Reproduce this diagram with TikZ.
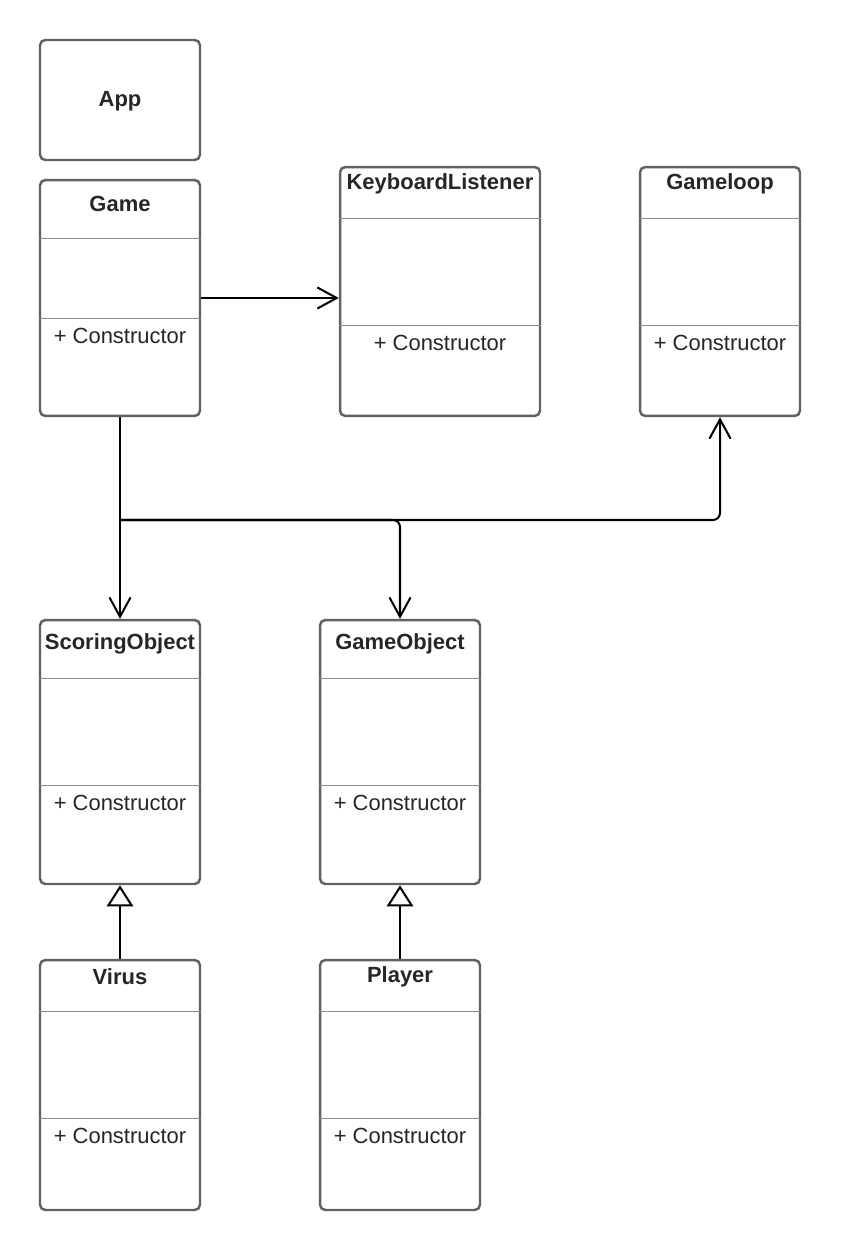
\documentclass[tikz,border=0pt]{standalone}
\usepackage{fontspec}
\setmainfont{Liberation Sans}
\usetikzlibrary{arrows.meta,positioning,calc}

\begin{document}
\begin{tikzpicture}[x=0.02cm, y=-0.02cm,
    every node/.style={font=\fontsize{12.5}{15}\selectfont},
    classbox/.style={draw=black!62, line width=1.4pt, rounded corners=3pt,
        inner sep=0pt, minimum width=3.2cm},
    sepline/.style={draw=black!45, line width=0.5pt},
    classname/.style={font=\fontsize{12.5}{15}\selectfont\bfseries, text=black!85},
    member/.style={text=black!85},
    assoc/.style={line width=1.15pt, -{Straight Barb[length=11pt, width=12pt, line width=1.15pt]}},
    inherit/.style={line width=1.15pt, -{Triangle[open, length=12pt, width=15pt, line width=1.15pt]}}]

    \useasboundingbox (0,0) rectangle (840,1250);

    % 1. Kotak kelas
    \node[classbox, minimum height=2.4cm] (app) at (120,100) {};
    \node[classbox, minimum height=4.72cm] (game) at (120,298) {};
    \node[classbox, minimum width=4cm, minimum height=4.98cm] (keys) at (440,291.5) {};
    \node[classbox, minimum height=4.98cm] (loop) at (720,291.5) {};
    \node[classbox, minimum height=5.28cm] (scoring) at (120,752) {};
    \node[classbox, minimum height=5.28cm] (gameobj) at (400,752) {};
    \node[classbox, minimum height=5cm] (virus) at (120,1085) {};
    \node[classbox, minimum height=5cm] (player) at (400,1085) {};

    % 2. Nama kelas
    \node[classname] (app-name) at (120,101) {App};
    \node[classname] (game-name) at (120,204) {Game};
    \node[classname] (keys-name) at (440,184) {KeyboardListener};
    \node[classname] (loop-name) at (720,184) {Gameloop};
    \node[classname] (scoring-name) at (120,644) {ScoringObject};
    \node[classname] (gameobj-name) at (400,644) {GameObject};
    \node[classname] (virus-name) at (120,977) {Virus};
    \node[classname] (player-name) at (400,977) {Player};

    % 3. Garis pemisah dan konstruktor
    \foreach \cls/\ya/\yb in {game/238/318, keys/218/325, loop/218/325,
        scoring/678/785, gameobj/678/785, virus/1011/1118, player/1011/1118} {
        \draw[sepline] (\cls.west |- 0,\ya) -- (\cls.east |- 0,\ya);
        \draw[sepline] (\cls.west |- 0,\yb) -- (\cls.east |- 0,\yb);
        \node[member] (\cls-ctor) at ($(\cls.center |- 0,\yb)+(0,18)$) {+ Constructor};
    }

    % 4. Asosiasi
    \coordinate (fork) at (120,520);
    \draw[assoc] (game.east) -- (keys.west |- game.east);
    \draw[assoc] (game.south) -- (scoring.north);
    \draw[assoc, rounded corners=4pt] (fork) -| (gameobj.north);
    \draw[assoc, rounded corners=4pt] (fork) -| (loop.south);

    % 5. Pewarisan
    \draw[inherit] (virus.north) -- (scoring.south);
    \draw[inherit] (player.north) -- (gameobj.south);

\end{tikzpicture}
\end{document}
